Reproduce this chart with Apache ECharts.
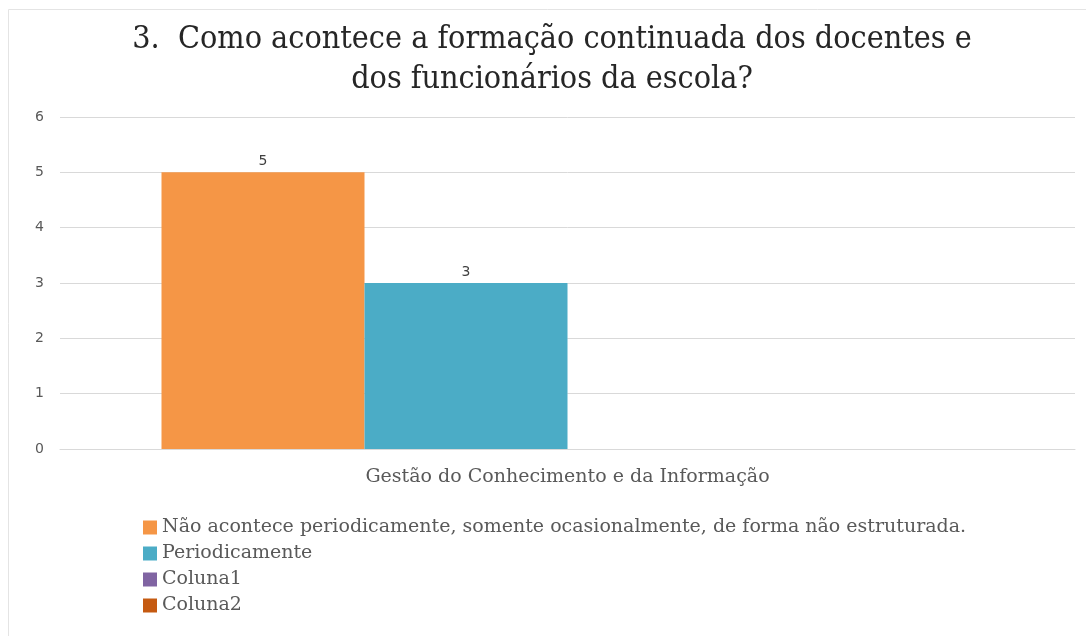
<!DOCTYPE html>
<html>
<head>
<meta charset="utf-8">
<script src="https://cdn.jsdelivr.net/npm/echarts@6/dist/echarts.min.js"></script>
<style>
  html, body { margin: 0; padding: 0; background: #ffffff; }
  #chart { width: 1086px; height: 636px; }
</style>
</head>
<body>
<div id="chart"></div>
<script>
// Chart data
const titleText = '3.  Como acontece a formação continuada dos docentes e\ndos funcionários da escola?';
const categories = ['Gestão do Conhecimento e da Informação'];
const seriesNames = [
  'Não acontece periodicamente, somente ocasionalmente, de forma não estruturada.',
  'Periodicamente',
  'Coluna1',
  'Coluna2'
];
const seriesValues = [
  [5],
  [3],
  [null],
  [null]
];
const seriesColors = ['#F59646', '#4BACC6', '#8064A2', '#C55A11'];
const yTicks = { min: 0, max: 6, interval: 1 };

const condensedSerif = '"DejaVu Serif Condensed", "DejaVu Serif", serif';
const wideSerif = '"DejaVu Serif", serif';
const labelGray = '#595959';

const chart = echarts.init(document.getElementById('chart'));

const series = seriesNames.map((name, i) => ({
  name: name,
  type: 'bar',
  data: seriesValues[i],
  barGap: '0%',
  barCategoryGap: '20%',
  itemStyle: { color: seriesColors[i] },
  label: {
    show: true,
    position: 'top',
    distance: 4,
    color: '#404040',
    fontFamily: '"DejaVu Sans", sans-serif',
    fontSize: 14
  }
}));

chart.setOption({
  animation: false,
  backgroundColor: '#ffffff',
  graphic: [{
    type: 'rect',
    shape: { x: 8.5, y: 9.5, width: 1090, height: 640 },
    style: { fill: 'none', stroke: '#e4e4e4', lineWidth: 1 },
    silent: true,
    z: -1
  }],
  title: {
    text: titleText,
    left: 547,
    textAlign: 'center',
    top: 15,
    textStyle: {
      fontFamily: condensedSerif,
      fontWeight: 'normal',
      fontSize: 32,
      lineHeight: 40,
      color: '#262626'
    }
  },
  grid: {
    left: 60,
    right: 11,
    top: 117,
    bottom: 187,
    containLabel: false
  },
  legend: {
    orient: 'vertical',
    left: 138,
    top: 513,
    itemWidth: 14,
    itemHeight: 14,
    itemGap: 7,
    icon: 'rect',
    textStyle: {
      fontFamily: wideSerif,
      fontSize: 19,
      color: labelGray,
      padding: [0, 0, 0, 0]
    },
    data: seriesNames
  },
  xAxis: {
    type: 'category',
    data: categories,
    axisLine: { show: true, lineStyle: { color: '#d9d9d9', width: 1 } },
    axisTick: { show: false },
    axisLabel: {
      margin: 19,
      fontFamily: wideSerif,
      fontSize: 19,
      color: labelGray
    }
  },
  yAxis: {
    type: 'value',
    min: yTicks.min,
    max: yTicks.max,
    interval: yTicks.interval,
    axisLine: { show: false },
    axisTick: { show: false },
    axisLabel: {
      margin: 16,
      fontFamily: '"DejaVu Sans", sans-serif',
      fontSize: 14,
      color: labelGray
    },
    splitLine: { lineStyle: { color: '#d9d9d9', width: 1 } }
  },
  series: series
});
</script>
</body>
</html>
